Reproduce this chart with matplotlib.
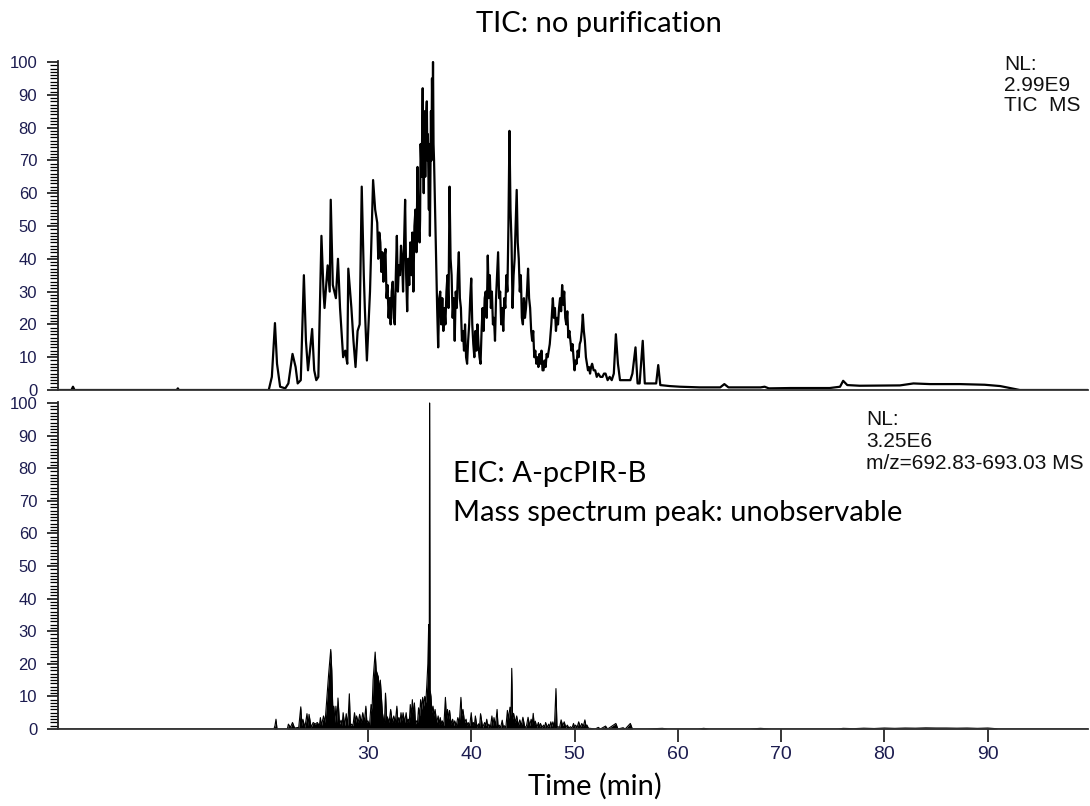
import matplotlib.pyplot as plt
from matplotlib.ticker import MultipleLocator

# TIC trace (top panel), relative abundance vs retention time (min)
tic_time = [0, 1.3, 1.45, 1.6, 11.5, 11.6, 11.7, 20.4, 20.7, 21.0,
            21.2, 21.5, 22.0, 22.3, 22.7, 23.0, 23.2, 23.5, 23.8, 24.0,
            24.2, 24.6, 24.8, 25.0, 25.2, 25.5, 25.7, 25.8, 26.1, 26.3,
            26.4, 26.6, 26.9, 27.1, 27.3, 27.6, 27.8, 28.0, 28.1, 28.4,
            28.6, 28.8, 29.0, 29.2, 29.4, 29.6, 29.7, 29.9, 30.2, 30.5,
            30.7, 30.9, 31.0, 31.1, 31.2, 31.3, 31.4, 31.5, 31.6, 31.7,
            31.8, 31.9, 32.0, 32.1, 32.2, 32.3, 32.4, 32.5, 32.6, 32.7,
            32.8, 32.9, 33.0, 33.1, 33.2, 33.3, 33.4, 33.5, 33.6, 33.7,
            33.8, 33.9, 34.0, 34.1, 34.2, 34.3, 34.4, 34.5, 34.6, 34.7,
            34.8, 34.9, 35.0, 35.05, 35.1, 35.2, 35.3, 35.35, 35.4, 35.5,
            35.55, 35.6, 35.7, 35.75, 35.8, 35.9, 35.95, 36.0, 36.1, 36.15,
            36.2, 36.25, 36.3, 36.35, 36.4, 36.5, 36.6, 36.7, 36.8, 36.9,
            37.0, 37.1, 37.2, 37.3, 37.4, 37.5, 37.6, 37.7, 37.8, 37.9,
            38.0, 38.1, 38.2, 38.3, 38.4, 38.5, 38.6, 38.7, 38.8, 38.9,
            39.0, 39.1, 39.2, 39.3, 39.4, 39.5, 39.6, 39.7, 39.8, 39.9,
            40.0, 40.1, 40.2, 40.3, 40.4, 40.5, 40.6, 40.7, 40.8, 40.9,
            41.0, 41.1, 41.2, 41.3, 41.4, 41.5, 41.6, 41.7, 41.8, 41.9,
            42.0, 42.1, 42.2, 42.3, 42.4, 42.5, 42.6, 42.7, 42.8, 42.9,
            43.0, 43.1, 43.2, 43.3, 43.4, 43.5, 43.6, 43.7, 43.8, 43.9,
            44.0, 44.1, 44.2, 44.3, 44.4, 44.5, 44.6, 44.7, 44.8, 44.9,
            45.0, 45.1, 45.2, 45.3, 45.4, 45.5, 45.6, 45.7, 45.8, 45.9,
            46.0, 46.1, 46.2, 46.3, 46.4, 46.5, 46.6, 46.7, 46.8, 46.9,
            47.0, 47.1, 47.2, 47.3, 47.4, 47.5, 47.6, 47.75, 47.9, 48.0,
            48.1, 48.2, 48.3, 48.4, 48.5, 48.6, 48.7, 48.8, 48.9, 49.0,
            49.1, 49.2, 49.3, 49.4, 49.5, 49.6, 49.7, 49.8, 49.9, 50.0,
            50.1, 50.2, 50.3, 50.4, 50.5, 50.6, 50.7, 50.8, 50.9, 51.0,
            51.1, 51.2, 51.3, 51.4, 51.5, 51.6, 51.7, 51.85, 52.0, 52.15,
            52.3, 52.5, 52.7, 52.85, 53.0, 53.2, 53.4, 53.6, 53.8, 54.0,
            54.2, 54.4, 54.9, 55.4, 55.6, 55.9, 56.1, 56.3, 56.6, 56.8,
            57.3, 57.9, 58.1, 58.3, 59.2, 60.2, 62.1, 64.1, 64.5, 64.9,
            68.0, 68.4, 68.8, 70.9, 74.7, 75.7, 76.0, 76.4, 77.6, 81.5,
            82.8, 84.4, 87.3, 89.7, 91.2, 92.6, 93.1, 100]
tic_int = [0, 0, 1, 0, 0, 0.5, 0, 0, 4, 20.4,
           8, 1, 0.5, 2, 11, 7, 2, 3, 35, 15,
           6, 18.6, 6, 3, 4, 47, 30, 25, 38, 30,
           58, 32, 28, 40, 25, 10, 12, 8, 37, 25,
           15, 7, 18, 20, 62, 35, 25, 9, 30, 64,
           55, 51, 40, 48, 45, 36, 42, 33, 40, 43,
           28, 32, 22, 28, 20, 30, 33, 22, 20, 35,
           47, 30, 38, 35, 44, 40, 30, 45, 58, 35,
           24, 40, 32, 45, 35, 48, 30, 50, 55, 42,
           68, 50, 45, 52, 75, 65, 92, 70, 60, 85,
           65, 80, 88, 70, 78, 55, 75, 47, 85, 70,
           95, 80, 100, 75, 70, 55, 40, 25, 13, 28,
           30, 20, 28, 18, 25, 20, 30, 35, 25, 62,
           40, 35, 22, 28, 15, 30, 25, 35, 42, 28,
           25, 15, 18, 12, 20, 10, 8, 15, 20, 28,
           34, 20, 14, 10, 18, 12, 20, 14, 10, 8,
           18, 25, 18, 28, 30, 22, 41, 28, 35, 25,
           30, 20, 22, 15, 28, 35, 42, 28, 30, 20,
           25, 18, 28, 25, 35, 30, 50, 79, 55, 45,
           25, 35, 40, 50, 61, 45, 40, 30, 35, 22,
           20, 28, 22, 25, 30, 37, 28, 25, 18, 15,
           18, 10, 12, 8, 10, 7, 11, 8, 12, 6,
           6, 9, 7, 11, 10, 12, 14, 20, 28, 22,
           25, 18, 22, 20, 25, 28, 24, 32, 26, 30,
           22, 20, 24, 16, 18, 15, 12, 14, 10, 6,
           9, 8, 12, 10, 14, 15, 18, 23, 18, 15,
           10, 8, 6, 7, 5, 7, 8, 6, 6, 4,
           5, 4, 4, 5, 5, 3, 4, 3, 5, 17,
           8, 3, 3, 3, 5, 13, 2, 2, 15, 2,
           2, 2, 7.6, 1.5, 1.2, 1, 0.8, 0.8, 1.8, 0.8,
           0.8, 1.0, 0.5, 0.6, 0.6, 1, 2.8, 1.5, 1.3, 1.4,
           2.0, 1.8, 1.8, 1.6, 1.2, 0.3, 0, 0]

# EIC trace (bottom panel), m/z 692.83-693.03
eic_time = [0, 20.9, 21.0, 21.1, 21.2, 22.2, 22.3, 22.5, 22.7, 22.9, 23.3, 23.5, 23.6, 23.7, 23.9,
            24.1, 24.2, 24.3, 24.5, 24.7, 24.9, 25.1, 25.3, 25.4, 25.5, 25.7, 25.85, 26.0, 26.2,
            26.4, 26.5, 26.6, 26.7, 26.8, 26.9, 27.0, 27.1, 27.25, 27.4, 27.5, 27.6, 27.75, 27.9,
            28.05, 28.2, 28.3, 28.4, 28.55, 28.7, 28.8, 28.9, 29.05, 29.2, 29.35, 29.5, 29.65, 29.8,
            29.9, 30.0, 30.15, 30.3, 30.4, 30.5, 30.7, 30.8, 30.9, 31.0, 31.1, 31.2, 31.3, 31.4,
            31.5, 31.6, 31.7, 31.8, 31.9, 32.05, 32.2, 32.35, 32.5, 32.65, 32.8, 32.9, 33.0, 33.1,
            33.2, 33.3, 33.4, 33.55, 33.7, 33.8, 33.9, 34.0, 34.1, 34.2, 34.3, 34.4, 34.5, 34.6,
            34.7, 34.8, 34.9, 35.0, 35.1, 35.2, 35.3, 35.4, 35.5, 35.6, 35.7, 35.8, 35.88, 35.93,
            35.97, 36.02, 36.1, 36.2, 36.3, 36.4, 36.5, 36.65, 36.8, 36.9, 37.0, 37.1, 37.2, 37.35,
            37.5, 37.6, 37.7, 37.8, 37.9, 38.05, 38.2, 38.3, 38.4, 38.55, 38.7, 38.85, 39.0, 39.1,
            39.2, 39.35, 39.5, 39.6, 39.7, 39.85, 40.0, 40.1, 40.2, 40.3, 40.4, 40.55, 40.7, 40.8,
            40.9, 41.1, 41.3, 41.4, 41.5, 41.6, 41.7, 41.85, 42.0, 42.1, 42.2, 42.35, 42.5, 42.6,
            42.7, 42.85, 43.0, 43.1, 43.2, 43.35, 43.5, 43.6, 43.75, 43.85, 43.92, 44.0, 44.1,
            44.25, 44.4, 44.55, 44.7, 44.85, 45.0, 45.2, 45.35, 45.5, 45.65, 45.8, 45.9, 46.0,
            46.1, 46.2, 46.35, 46.5, 46.6, 46.7, 46.85, 47.0, 47.1, 47.2, 47.35, 47.5, 47.6, 47.7,
            47.8, 47.9, 48.05, 48.2, 48.3, 48.4, 48.55, 48.7, 48.85, 49.0, 49.15, 49.3, 49.45,
            49.6, 49.75, 49.9, 50.0, 50.1, 50.25, 50.4, 50.55, 50.7, 50.85, 51.0, 51.1, 51.2,
            51.35, 51.5, 52.0, 52.3, 52.5, 53.0, 53.2, 54.0, 54.2, 54.7, 54.9, 55.4, 55.6, 57,
            58.5, 59, 62, 62.5, 63, 67, 68, 69, 75.5, 76, 77, 78, 79, 80, 81, 82, 83, 84, 85, 86,
            87, 88, 89, 90, 90.8, 91, 100]
eic_int = [0, 0, 1, 3, 0, 0, 1.5, 0.5, 2, 0.3, 0.5, 6.8, 1, 3, 0.5,
           4.7, 1, 4.5, 0.5, 2, 1.5, 2, 1, 3.5, 1, 4, 2, 8.5, 17,
           24.4, 18, 6, 7, 2, 7, 2, 9.5, 1.5, 2.7, 1, 5, 1, 4.7,
           1, 10.8, 1, 1.5, 1, 5, 2, 4, 2, 4.5, 2, 5, 2, 7,
           2, 2.5, 1, 7.5, 6, 15, 23.6, 18, 17, 16, 12, 15, 10, 5,
           3, 2, 11, 4, 3.5, 2, 6, 2, 4, 2, 7, 2, 3.5, 2,
           5, 2.5, 5, 2, 5, 2, 3, 2, 7.5, 4, 9, 4, 8, 1.5,
           2.5, 2, 6.5, 4, 9, 6, 9.7, 7, 10, 8, 13.5, 20, 32, 8,
           100, 12, 10, 5, 7, 4, 6, 2, 4, 1.5, 3.5, 1.5, 2.5, 1,
           9.7, 3, 6, 3, 5.7, 1.5, 3, 1, 2.5, 1, 3.5, 2, 9.7, 4,
           6, 2, 3, 1, 2, 1, 5, 1, 2, 1, 4, 0.5, 1.6, 0.5,
           4.7, 0.5, 2, 1, 3, 0.5, 1.5, 0.5, 4, 1, 3.5, 1, 6, 0.5,
           1.2, 0.5, 2.7, 0.5, 1, 0.5, 5.7, 3, 6.7, 4, 18.6, 3, 4.8,
           2, 4, 1, 2.8, 1, 3.6, 0.3, 1, 3.6, 1, 3, 1.5, 4.8,
           1, 2.4, 0.5, 2, 0.5, 1.7, 0.5, 1.2, 0.5, 2, 0.5, 1.5, 0.5, 2.2,
           0.8, 2.2, 0.5, 12.4, 0.5, 0.7, 0.5, 2.8, 1, 2.2, 0.5, 1.2, 0.3,
           0.7, 0.3, 1.7, 0.5, 1.2, 0.5, 2.2, 0.5, 1.7, 0.8, 2.8, 1, 1.2,
           0.2, 0.2, 0, 0.5, 0, 0.9, 0, 1.7, 0, 0.4, 0, 1.7, 0, 0,
           0.2, 0, 0, 0.2, 0, 0, 0.2, 0, 0, 0.2, 0.1, 0.25, 0.15, 0.3, 0.2, 0.3, 0.25, 0.35, 0.3, 0.3,
           0.25, 0.3, 0.2, 0.3, 0.1, 0, 0]

x_ticks = [30, 40, 50, 60, 70, 80, 90]

W, H = 1090, 806
fig = plt.figure(figsize=(W / 100, H / 100), dpi=100)
ax1 = fig.add_axes([58 / W, 1 - 390 / H, 1030 / W, 329 / H])
ax2 = fig.add_axes([58 / W, 1 - 729 / H, 1030 / W, 327 / H])

label_color = '#1c1c50'
for ax in (ax1, ax2):
    ax.set_xlim(0, 99.7)
    ax.set_ylim(0, 100.3)
    ax.spines['top'].set_visible(False)
    ax.spines['right'].set_visible(False)
    ax.spines['left'].set_linewidth(1.3)
    ax.spines['bottom'].set_linewidth(1.3)
    ax.spines['left'].set_color('#222222')
    ax.spines['bottom'].set_color('#333333')
    ax.yaxis.set_major_locator(MultipleLocator(10))
    ax.yaxis.set_minor_locator(MultipleLocator(1))
    ax.tick_params(axis='y', which='major', length=8, width=1.1, pad=7,
                   labelsize=12, labelcolor=label_color)
    ax.tick_params(axis='y', which='minor', length=5.5, width=0.9)
    for lab in ax.get_yticklabels():
        lab.set_family('Liberation Sans')

ax1.plot(tic_time, tic_int, color='black', lw=1.6)
ax1.set_xticks([])

ax2.fill_between(eic_time, eic_int, color='black', lw=0)
ax2.plot(eic_time, eic_int, color='black', lw=0.8)
ax2.set_xticks(x_ticks)
ax2.tick_params(axis='x', length=9, width=1.1, pad=3, labelsize=14, labelcolor=label_color)
for lab in ax2.get_xticklabels():
    lab.set_family('Liberation Sans')

calibri_like = 'Lato'
fig.text(599 / W, 1 - 32 / H, 'TIC: no purification', ha='center', va='baseline',
         fontsize=21, family=calibri_like)
fig.text(595 / W, 1 - 795 / H, 'Time (min)', ha='center', va='baseline',
         fontsize=21, family=calibri_like)
fig.text(453 / W, 1 - 482 / H, 'EIC: A-pcPIR-B', ha='left', va='baseline',
         fontsize=21, family=calibri_like)
fig.text(453 / W, 1 - 521 / H, 'Mass spectrum peak: unobservable', ha='left', va='baseline',
         fontsize=21, family=calibri_like)

# normalisation level labels
for i, line in enumerate(['NL:', '2.99E9', 'TIC  MS']):
    fig.text(1004 / W, 1 - (70 + 20.7 * i) / H, line, ha='left', va='baseline',
             fontsize=15, family='Liberation Sans', color='#111111')
for i, line in enumerate(['NL:', '3.25E6', 'm/z=692.83-693.03 MS']):
    fig.text(866 / W, 1 - (425 + 22 * i) / H, line, ha='left', va='baseline',
             fontsize=15, family='Liberation Sans', color='#111111')

plt.savefig('out.png', dpi=100)
